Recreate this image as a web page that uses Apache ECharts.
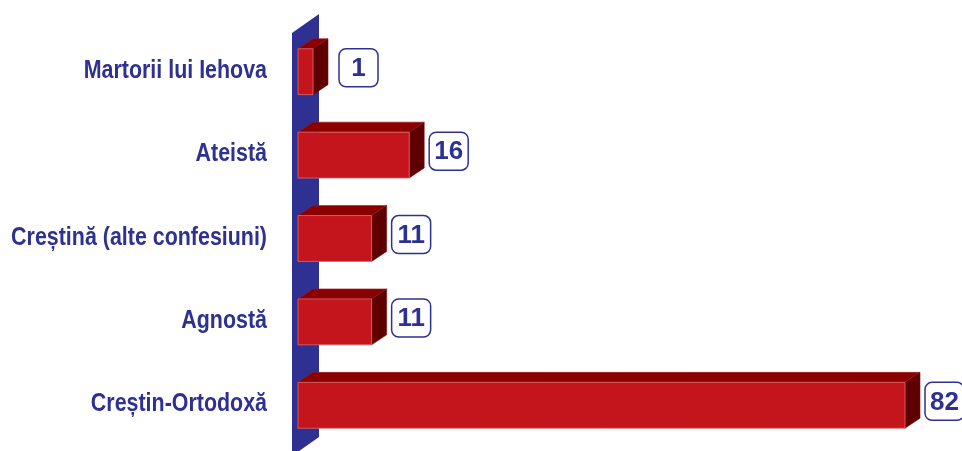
<!DOCTYPE html>
<html>
<head>
<meta charset="utf-8">
<script src="https://cdn.jsdelivr.net/npm/echarts@6/dist/echarts.min.js"></script>
<style>
html,body{margin:0;padding:0;background:#fff;}
#chart{width:962px;height:451px;}
</style>
</head>
<body>
<div id="chart"></div>
<script>
const categories = ['Martorii lui Iehova', 'Ateistă', 'Creștină (alte confesiuni)', 'Agnostă', 'Creștin-Ortodoxă'];
const values = [1, 16, 11, 11, 82];

const BLUE = '#2e3192';
const FRONT = '#c4141c';
const TOP = '#8a0000';
const SIDE = '#5e0000';
const DX = 15, DY = -10;

const chart = echarts.init(document.getElementById('chart'));

const barData = values.map((v, i) => [v, i]);

chart.setOption({
  animation: false,
  grid: { left: 289, right: 57, top: 30, bottom: 4, outerBoundsMode: 'none', containLabel: false },
  xAxis: { type: 'value', min: 0, max: 82, show: false },
  yAxis: {
    type: 'category',
    data: categories,
    inverse: true,
    axisLine: { show: false },
    axisTick: { show: false },
    splitLine: { show: false },
    axisLabel: { show: false }
  },
  series: [
    {
      type: 'custom',
      clip: false,
      silent: true,
      data: [[0, 0]],
      renderItem: function (params, api) {
        const cs = params.coordSys;
        const x0 = cs.x + 3, x1 = cs.x + 30;
        return {
          type: 'polygon',
          shape: { points: [[x0, cs.y + 3], [x1, cs.y - 16], [x1, cs.y + cs.height - 10], [x0, cs.y + cs.height + 9]] },
          style: { fill: BLUE }
        };
      },
      z: 1
    },
    {
      type: 'custom',
      clip: false,
      encode: { x: 0, y: 1 },
      data: barData,
      z: 2,
      renderItem: function (params, api) {
        const v = api.value(0);
        const idx = api.value(1);
        const end = api.coord([v, idx]);
        const origin = api.coord([0, idx]);
        const band = api.size([0, 1])[1];
        const h = band * 0.55;
        const x0 = origin[0] + 9;
        const x1 = Math.max(end[0], x0 + 15);
        const y0 = end[1] - h / 2;
        const y1 = y0 + h;
        const wallRight = origin[0] + 30;
        const bx = Math.max(x1, wallRight) + 20;
        const by = y0;
        const bw = 39, bh = 38;
        return {
          type: 'group',
          children: [
            {
              type: 'text',
              x: origin[0] - 22,
              y: end[1] - 1,
              scaleX: 0.84,
              style: {
                text: categories[idx],
                x: 0,
                y: 0,
                align: 'right',
                verticalAlign: 'middle',
                fill: BLUE,
                font: 'bold 25.5px "Liberation Sans", Arial, sans-serif'
              }
            },
            {
              type: 'polygon',
              shape: { points: [[x0, y0], [x0 + DX, y0 + DY], [x1 + DX, y0 + DY], [x1, y0]] },
              style: { fill: TOP, stroke: '#9a1a1a', lineWidth: 0.6 }
            },
            {
              type: 'polygon',
              shape: { points: [[x1, y0], [x1 + DX, y0 + DY], [x1 + DX, y1 + DY], [x1, y1]] },
              style: { fill: SIDE, stroke: '#7a1010', lineWidth: 0.6 }
            },
            {
              type: 'rect',
              shape: { x: x0, y: y0, width: x1 - x0, height: h },
              style: { fill: FRONT, stroke: '#e06a6a', lineWidth: 0.8 }
            },
            {
              type: 'rect',
              shape: { x: bx, y: by, width: bw, height: bh, r: 7 },
              style: { fill: '#fff', stroke: BLUE, lineWidth: 1.5 }
            },
            {
              type: 'text',
              style: {
                text: String(v),
                x: bx + bw / 2,
                y: by + bh / 2 + 1,
                align: 'center',
                verticalAlign: 'middle',
                fill: BLUE,
                font: 'bold 26px "Liberation Sans", Arial, sans-serif'
              }
            }
          ]
        };
      }
    }
  ]
});
</script>
</body>
</html>
